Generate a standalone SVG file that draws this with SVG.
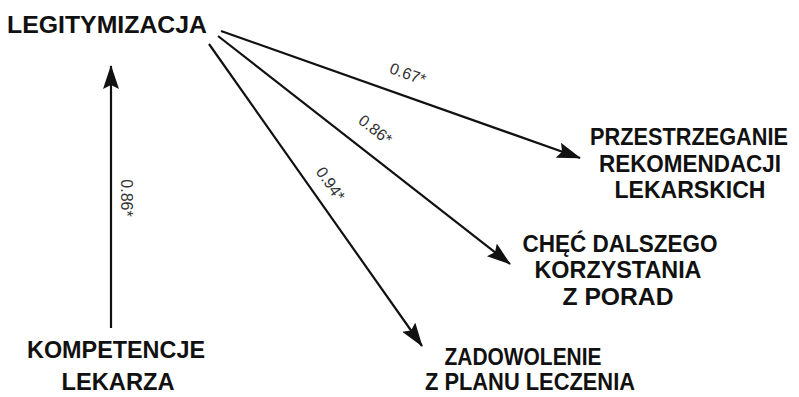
<svg xmlns="http://www.w3.org/2000/svg" width="799" height="397" viewBox="0 0 799 397">
  <style>
    .node { font-family: "Liberation Sans", Arial, sans-serif; font-weight: bold; font-size: 23px; fill: #111; text-anchor: middle; }
    .edge { stroke: #111; stroke-width: 2.2; fill: none; marker-end: url(#head); }
    .coef { font-family: "Liberation Sans", Arial, sans-serif; font-size: 16px; fill: #333; text-anchor: middle; }
  </style>
  <defs>
    <marker id="head" markerUnits="userSpaceOnUse" markerWidth="28" markerHeight="18" refX="23" refY="8" orient="auto">
      <path d="M0,0 L24,8 L0,16 L4,8 z" fill="#111"/>
    </marker>
  </defs>
  <rect width="799" height="397" fill="#fff"/>

  <g id="connectors">
    <line class="edge" x1="111" y1="328" x2="111" y2="66"/>
    <line class="edge" x1="221" y1="31" x2="580" y2="158"/>
    <line class="edge" x1="218" y1="36" x2="510" y2="264"/>
    <line class="edge" x1="209" y1="44" x2="422" y2="346"/>
    <text class="coef" transform="translate(406,79) rotate(19.5)">0.67*</text>
    <text class="coef" transform="translate(372,134) rotate(38)">0.86*</text>
    <text class="coef" transform="translate(326,187) rotate(55)">0.94*</text>
    <text class="coef" transform="translate(121,198) rotate(90)">0.86*</text>
  </g>

  <g id="legitymizacja">
    <text class="node" x="107" y="33" textLength="200" lengthAdjust="spacingAndGlyphs">LEGITYMIZACJA</text>
  </g>
  <g id="kompetencje">
    <text class="node" x="116" y="358" textLength="178" lengthAdjust="spacingAndGlyphs">KOMPETENCJE</text>
    <text class="node" x="118" y="390" textLength="113" lengthAdjust="spacingAndGlyphs">LEKARZA</text>
  </g>
  <g id="przestrzeganie">
    <text class="node" x="689" y="145" textLength="198" lengthAdjust="spacingAndGlyphs">PRZESTRZEGANIE</text>
    <text class="node" x="690" y="172" textLength="182" lengthAdjust="spacingAndGlyphs">REKOMENDACJI</text>
    <text class="node" x="690" y="198" textLength="151" lengthAdjust="spacingAndGlyphs">LEKARSKICH</text>
  </g>
  <g id="chec">
    <text class="node" x="620" y="252" textLength="195" lengthAdjust="spacingAndGlyphs">CHĘĆ DALSZEGO</text>
    <text class="node" x="618" y="278" textLength="167" lengthAdjust="spacingAndGlyphs">KORZYSTANIA</text>
    <text class="node" x="618" y="305" textLength="111" lengthAdjust="spacingAndGlyphs">Z PORAD</text>
  </g>
  <g id="zadowolenie">
    <text class="node" x="523" y="365" textLength="157" lengthAdjust="spacingAndGlyphs">ZADOWOLENIE</text>
    <text class="node" x="530" y="390" textLength="210" lengthAdjust="spacingAndGlyphs">Z PLANU LECZENIA</text>
  </g>
</svg>
